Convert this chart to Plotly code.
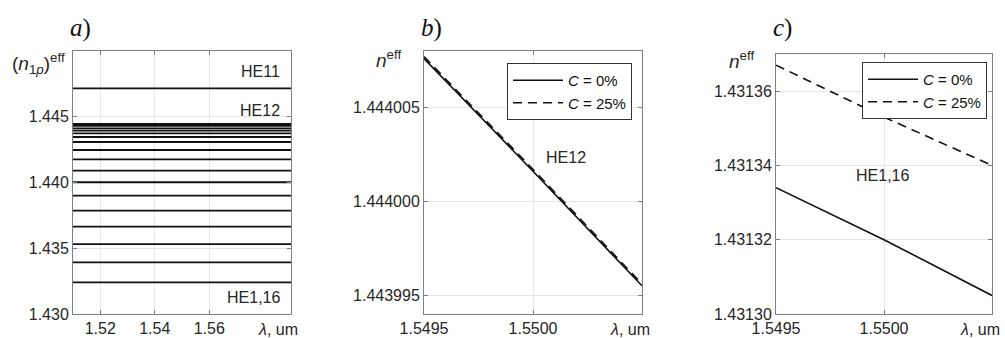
import plotly.graph_objects as go

# ---------------- data ----------------
wavelength_a = [1.51, 1.59]
neff_a_modes = [1.44716, 1.44445, 1.44430, 1.44412, 1.44394, 1.44373, 1.44346,
                1.44308, 1.44247, 1.44176, 1.44090, 1.44002, 1.43900, 1.43786,
                1.43664, 1.43532, 1.43393, 1.43240]

wavelength_bc = [1.5495, 1.5500, 1.5505]
neff_b_c0 = [1.4440076, 1.4440016, 1.4439955]
neff_b_c25 = [1.4440077, 1.4440017, 1.4439956]
neff_c_c0 = [1.431334, 1.431320, 1.431305]
neff_c_c25 = [1.431367, 1.431353, 1.431340]

legend_names = ["<i>C</i> = 0%", "<i>C</i> = 25%"]

W, H = 1005, 338
def px(x):
    return x / W
def py(y):
    return (H - y) / H

FONT = "Arial, Liberation Sans, sans-serif"
TXT = "#262626"
AX = "#808080"
GRID = "#e6e6e6"
DASH = "9px,6px"

fig = go.Figure()

# panel a
for v in neff_a_modes:
    fig.add_trace(go.Scatter(x=wavelength_a, y=[v, v], mode="lines",
                             line=dict(color="#111111", width=1.8),
                             showlegend=False, xaxis="x", yaxis="y",
                             hoverinfo="skip"))

# panel b
fig.add_trace(go.Scatter(x=wavelength_bc, y=neff_b_c0, mode="lines", name=legend_names[0],
                         line=dict(color="#111111", width=1.6), xaxis="x2", yaxis="y2",
                         legend="legend"))
fig.add_trace(go.Scatter(x=wavelength_bc, y=neff_b_c25, mode="lines", name=legend_names[1],
                         line=dict(color="#111111", width=1.6, dash=DASH),
                         xaxis="x2", yaxis="y2", legend="legend"))
# panel c
fig.add_trace(go.Scatter(x=wavelength_bc, y=neff_c_c0, mode="lines", name=legend_names[0],
                         line=dict(color="#111111", width=1.6), xaxis="x3", yaxis="y3",
                         legend="legend2"))
fig.add_trace(go.Scatter(x=wavelength_bc, y=neff_c_c25, mode="lines", name=legend_names[1],
                         line=dict(color="#111111", width=1.6, dash=DASH),
                         xaxis="x3", yaxis="y3", legend="legend2"))

def axis_style(**kw):
    d = dict(showline=True, linecolor=AX, linewidth=1, mirror="ticks",
             ticks="inside", ticklen=4, tickcolor=AX, showgrid=True,
             gridcolor=GRID, gridwidth=1, zeroline=False, automargin=False,
             tickfont=dict(family=FONT, size=16, color=TXT))
    d.update(kw)
    return d

ya_top = py(51)
ybot = py(314)
fig.update_layout(
    template="none",
    width=W, height=H, margin=dict(l=0, r=0, t=0, b=0, pad=0),
    plot_bgcolor="white", paper_bgcolor="white",
    xaxis=axis_style(domain=[px(73), px(291)], range=[1.51, 1.59],
                     tickvals=[1.52, 1.54, 1.56], ticktext=["1.52", "1.54", "1.56"],
                     anchor="y"),
    yaxis=axis_style(domain=[ybot, ya_top], range=[1.430, 1.450],
                     tickvals=[1.430, 1.435, 1.440, 1.445],
                     ticktext=["1.430", "1.435", "1.440", "1.445"], anchor="x"),
    xaxis2=axis_style(domain=[px(424), px(642)], range=[1.5495, 1.5505],
                      tickvals=[1.5495, 1.5500], ticktext=["1.5495", "1.5500"],
                      anchor="y2"),
    yaxis2=axis_style(domain=[ybot, ya_top], range=[1.443994, 1.444008],
                      tickvals=[1.443995, 1.444000, 1.444005],
                      ticktext=["1.443995", "1.444000", "1.444005"], anchor="x2"),
    xaxis3=axis_style(domain=[px(776), px(992)], range=[1.5495, 1.5505],
                      tickvals=[1.5495, 1.5500], ticktext=["1.5495", "1.5500"],
                      anchor="y3"),
    yaxis3=axis_style(domain=[ybot, py(54)], range=[1.43130, 1.43137],
                      tickvals=[1.43130, 1.43132, 1.43134, 1.43136],
                      ticktext=["1.43130", "1.43132", "1.43134", "1.43136"], anchor="x3"),
    legend=dict(x=px(507), y=py(63), xanchor="left", yanchor="top",
                bgcolor="white", bordercolor="#333333", borderwidth=1,
                font=dict(family=FONT, size=15, color="#111111"),
                tracegroupgap=0, itemwidth=50),
    legend2=dict(x=px(862), y=py(62), xanchor="left", yanchor="top",
                 bgcolor="white", bordercolor="#333333", borderwidth=1,
                 font=dict(family=FONT, size=15, color="#111111"),
                 tracegroupgap=0, itemwidth=50),
)

ann = []
def note(text, x, y, size=16, family=FONT, xanchor="center", color=TXT):
    ann.append(dict(text=text, x=px(x), y=py(y), xref="paper", yref="paper",
                    xanchor=xanchor, yanchor="middle", showarrow=False,
                    font=dict(family=family, size=size, color=color)))

SERIF = "Liberation Serif, Times New Roman, serif"
note("<i>a</i>)", 80, 28, size=25, family=SERIF, color="#111111")
note("<i>b</i>)", 431, 28, size=25, family=SERIF, color="#111111")
note("<i>c</i>)", 782, 28, size=25, family=SERIF, color="#111111")

note("(<i>n</i><sub>1<i>p</i></sub>)<sup>eff</sup>", 67, 64, size=19, xanchor="right")
note("<i>n</i><sup>eff</sup>", 403, 59, size=19, xanchor="right")
note("<i>n</i><sup>eff</sup>", 756, 60, size=19, xanchor="right")

note("HE11", 260, 72)
note("HE12", 260, 110)
note("HE1,16", 254, 297)
note("HE12", 566, 157)
note("HE1,16", 882, 175)

note("<i>λ</i>, um", 278, 329)
note("<i>λ</i>, um", 630, 329)
note("<i>λ</i>, um", 980, 329)

fig.update_layout(annotations=ann)
fig.write_html("out.html", config={"displayModeBar": False},
               post_script="document.body.style.margin='0';document.body.style.overflow='hidden';")
